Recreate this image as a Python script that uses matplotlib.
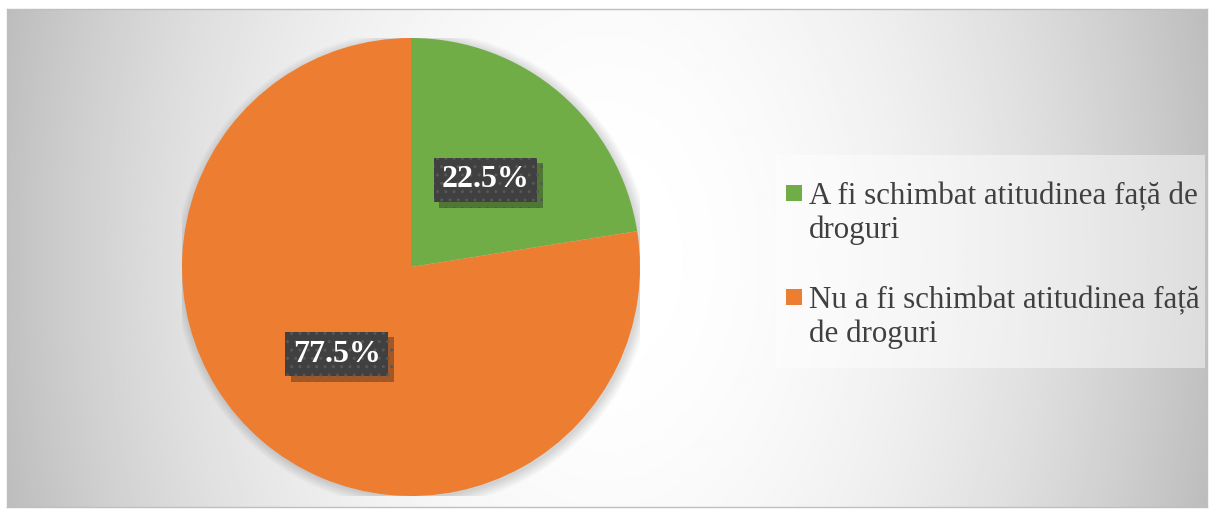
import matplotlib.pyplot as plt
import numpy as np
from matplotlib.patches import Rectangle, Circle
import matplotlib.patheffects as pe

labels = ['A fi schimbat atitudinea față de\ndroguri',
          'Nu a fi schimbat atitudinea față\nde droguri']
values = [22.5, 77.5]
colors = ['#70AD47', '#ED7D31']

W, H = 1212, 511
fig = plt.figure(figsize=(W / 100, H / 100), dpi=100)
fig.patch.set_facecolor('white')
plt.rcParams['font.family'] = ['Liberation Serif', 'DejaVu Serif']

# chart area with a soft gradient (white in the middle, grey at the sides)
bg = fig.add_axes([7 / W, 4 / H, 1200 / W, 498 / H])
xx = np.linspace(-1, 1, 600)
yy = np.linspace(-1, 1, 250)
X, Y = np.meshgrid(xx, yy)
g = 1 - 0.24 * (X ** 2 + 0.08 * Y ** 2)
bg.imshow(g, cmap='gray', vmin=0, vmax=1, extent=[0, 1, 0, 1], aspect='auto')
bg.set_xlim(0, 1)
bg.set_ylim(0, 1)
bg.set_xticks([])
bg.set_yticks([])
for s in bg.spines.values():
    s.set_color('#bfbfbf')
    s.set_linewidth(1)

# legend background box
fig.patches.append(Rectangle((776 / W, 1 - 368 / H), 429 / W, 213 / H,
                             transform=fig.transFigure, facecolor='white',
                             alpha=0.45, edgecolor='none', zorder=1))

# pie
cx, cy, r = 411, 267, 229
ax = fig.add_axes([(cx - r) / W, (H - cy - r) / H, 2 * r / W, 2 * r / H])

# faint shadow around the pie
for i in range(8):
    ax.add_patch(Circle((0.01, -0.01), 1 + 0.006 * i, facecolor='black',
                        alpha=0.02, edgecolor='none', zorder=0))

wedges, texts, autotexts = ax.pie(values, colors=colors, startangle=90,
                                  counterclock=False, autopct='%.1f%%',
                                  pctdistance=0.5, radius=1,
                                  wedgeprops=dict(linewidth=0, zorder=1))
ax.set_xlim(-1, 1)
ax.set_ylim(-1, 1)
ax.set_aspect('equal')
ax.axis('off')

for t in autotexts:
    t.set_fontsize(23)
    t.set_fontweight('bold')
    t.set_color('white')
    t.set_zorder(3)
    t.set_bbox(dict(boxstyle='square,pad=0.24', facecolor='#404040',
                    edgecolor='#575757', linewidth=0, hatch='..'))
    t.get_bbox_patch().set_path_effects(
        [pe.SimplePatchShadow(offset=(4, -4), alpha=0.35), pe.Normal()])

# legend: square marker beside the first line of each wrapped label
base_y = [204, 308]   # baseline of first line, px from top
line_h = 34
for lab, c, by in zip(labels, colors, base_y):
    fig.patches.append(Rectangle((786 / W, 1 - (by - 3) / H), 16 / W, 16 / H,
                                 transform=fig.transFigure, facecolor=c,
                                 edgecolor='none', zorder=2))
    # va='baseline' anchors the last line, which sits one line below
    fig.text(809 / W, 1 - (by + line_h) / H, lab, ha='left', va='baseline',
             fontsize=22.3, color='#404040', linespacing=1.2, zorder=3)

fig.savefig('out.png', dpi=100)
